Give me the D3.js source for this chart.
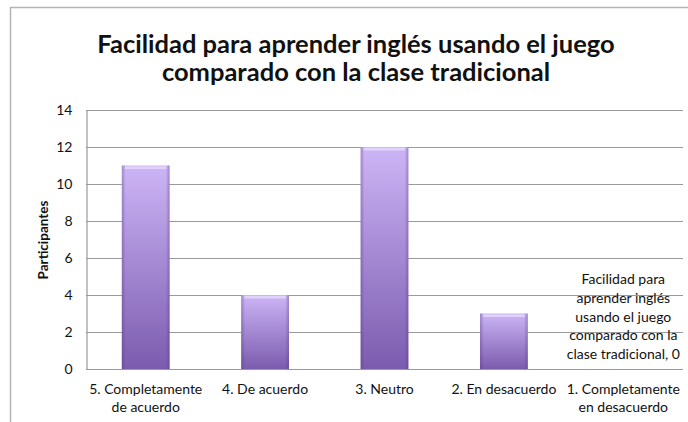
<!DOCTYPE html>
<html>
<head>
<meta charset="utf-8">
<script src="https://cdn.jsdelivr.net/npm/d3@7"></script>
<style>
  body { margin: 0; background: #fff; }
  svg { display: block; font-family: Lato, "Open Sans", sans-serif; }
</style>
</head>
<body>
<div id="chart"></div>
<script>
/*---------- DATA ----------*/
const categories = [
  "5. Completamente de acuerdo",
  "4. De acuerdo",
  "3. Neutro",
  "2. En desacuerdo",
  "1. Completamente en desacuerdo",
];
const values = [11, 4, 12, 3, 0];
const yTicks = [0, 2, 4, 6, 8, 10, 12, 14];
const titleLines = [
  "Facilidad para aprender inglés usando el juego",
  "comparado con la clase tradicional",
];
const zeroLabel = [
  "Facilidad para",
  "aprender inglés",
  "usando el juego",
  "comparado con la",
  "clase tradicional, 0",
];

/*---------- SETUP ----------*/
const width = 688;
const height = 422;
const margin = { top: 110, right: 5, bottom: 53, left: 86 };

const svg = d3
  .select("#chart")
  .append("svg")
  .attr("width", width)
  .attr("height", height);

// Gradient for the bars (light on top, darker at the bottom)
const defs = svg.append("defs");
const grad = defs
  .append("linearGradient")
  .attr("id", "barGrad")
  .attr("x1", 0).attr("y1", 0)
  .attr("x2", 0).attr("y2", 1);
grad.append("stop").attr("offset", "0%").attr("stop-color", "#ccb5f6");
grad.append("stop").attr("offset", "100%").attr("stop-color", "#7b5bae");

const side = defs
  .append("linearGradient")
  .attr("id", "sideGrad")
  .attr("x1", 0).attr("y1", 0)
  .attr("x2", 1).attr("y2", 0);
side.append("stop").attr("offset", "0%").attr("stop-color", "#4b2f7a").attr("stop-opacity", 0.35);
side.append("stop").attr("offset", "8%").attr("stop-color", "#4b2f7a").attr("stop-opacity", 0);
side.append("stop").attr("offset", "92%").attr("stop-color", "#4b2f7a").attr("stop-opacity", 0);
side.append("stop").attr("offset", "100%").attr("stop-color", "#4b2f7a").attr("stop-opacity", 0.35);

// Outer chart frame
svg
  .append("rect")
  .attr("x", 10.5)
  .attr("y", 7.5)
  .attr("width", width)
  .attr("height", height)
  .attr("fill", "none")
  .attr("stroke", "#b4b4b4")
  .attr("stroke-width", 1.5);

// Title
svg
  .append("text")
  .attr("x", 356)
  .attr("y", 53)
  .attr("text-anchor", "middle")
  .attr("font-size", "25.5px")
  .attr("font-weight", "bold")
  .attr("fill", "#111")
  .selectAll("tspan")
  .data(titleLines)
  .join("tspan")
  .attr("x", 356)
  .attr("dy", (d, i) => (i === 0 ? 0 : 28))
  .text((d) => d);

/*---------- SCALES ----------*/
const x = d3
  .scaleBand()
  .domain(categories)
  .range([margin.left, width - margin.right])
  .paddingInner(0.6)
  .paddingOuter(0.3);

const y = d3
  .scaleLinear()
  .domain([0, 14])
  .range([height - margin.bottom, margin.top]);

// Grid lines
svg
  .append("g")
  .selectAll("line")
  .data(yTicks)
  .join("line")
  .attr("x1", margin.left)
  .attr("x2", width - margin.right)
  .attr("y1", (d) => Math.round(y(d)) + 0.5)
  .attr("y2", (d) => Math.round(y(d)) + 0.5)
  .attr("stroke", "#9a9a9a")
  .attr("stroke-width", 1.2);

// Y axis
const yAxis = svg
  .append("g")
  .attr("transform", `translate(${margin.left + 0.5},0)`)
  .call(d3.axisLeft(y).tickValues(yTicks).tickSize(0).tickPadding(14));
yAxis.select(".domain").attr("stroke", "#9a9a9a").attr("stroke-width", 1.2);
yAxis
  .selectAll("text")
  .attr("font-family", "Lato, 'Open Sans', sans-serif")
  .attr("font-size", "14px")
  .attr("fill", "#111");

// Y axis title
svg
  .append("text")
  .attr("transform", "translate(48,240) rotate(-90)")
  .attr("text-anchor", "middle")
  .attr("font-size", "13.5px")
  .attr("font-weight", "bold")
  .attr("fill", "#111")
  .text("Participantes");

/*---------- BARS ----------*/
const bars = svg.append("g");
bars
  .selectAll("rect.bar")
  .data(values)
  .join("rect")
  .attr("class", "bar")
  .attr("x", (d, i) => x(categories[i]))
  .attr("y", (d) => y(d))
  .attr("width", x.bandwidth())
  .attr("height", (d) => y(0) - y(d))
  .attr("fill", "url(#barGrad)");

// Side shading for a bevelled look
bars
  .selectAll("rect.side")
  .data(values.filter((d) => d > 0))
  .join("rect")
  .attr("class", "side")
  .attr("x", (d) => x(categories[values.indexOf(d)]))
  .attr("y", (d) => y(d))
  .attr("width", x.bandwidth())
  .attr("height", (d) => y(0) - y(d))
  .attr("fill", "url(#sideGrad)");

// Top highlight
bars
  .selectAll("rect.top")
  .data(values.filter((d) => d > 0))
  .join("rect")
  .attr("class", "top")
  .attr("x", (d) => x(categories[values.indexOf(d)]) + 3)
  .attr("y", (d) => y(d) + 1)
  .attr("width", x.bandwidth() - 6)
  .attr("height", 2.5)
  .attr("fill", "#f3ecff")
  .attr("opacity", 0.55);

/*---------- LABELS ----------*/
// Category labels (wrapped like the original)
const xLabelLines = [
  ["5. Completamente", "de acuerdo"],
  ["4. De acuerdo"],
  ["3. Neutro"],
  ["2. En desacuerdo"],
  ["1. Completamente", "en desacuerdo"],
];
svg
  .append("g")
  .selectAll("text")
  .data(categories)
  .join("text")
  .attr("text-anchor", "middle")
  .attr("font-size", "14px")
  .attr("fill", "#111")
  .attr("y", y(0) + 25)
  .each(function (d, i) {
    d3.select(this)
      .selectAll("tspan")
      .data(xLabelLines[i])
      .join("tspan")
      .attr("x", x(d) + x.bandwidth() / 2)
      .attr("dy", (t, j) => (j === 0 ? 0 : 18))
      .text((t) => t);
  });

// Data label for the zero bar
const zi = values.indexOf(0);
svg
  .append("text")
  .attr("text-anchor", "middle")
  .attr("font-size", "14px")
  .attr("fill", "#111")
  .attr("y", y(0) - 10 - (zeroLabel.length - 1) * 18.7)
  .selectAll("tspan")
  .data(zeroLabel)
  .join("tspan")
  .attr("x", x(categories[zi]) + x.bandwidth() / 2)
  .attr("dy", (d, i) => (i === 0 ? 0 : 18.7))
  .text((d) => d);
</script>
</body>
</html>
